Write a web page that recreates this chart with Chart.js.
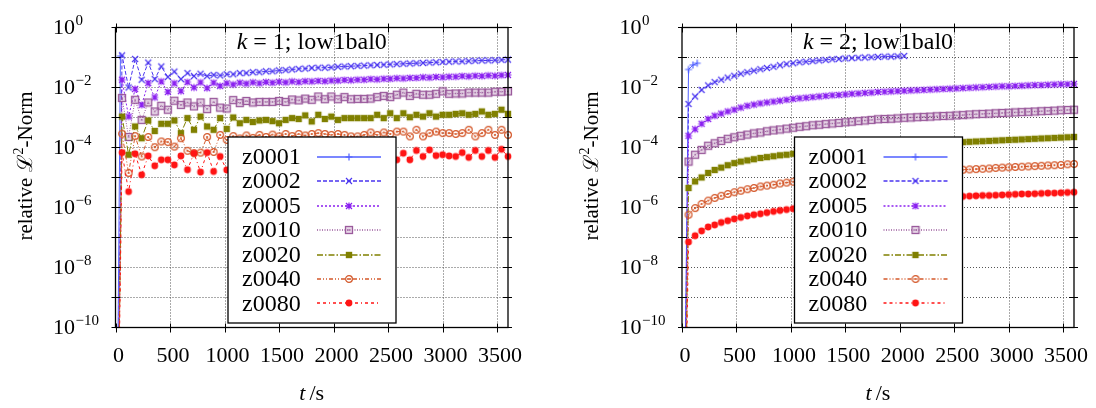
<!DOCTYPE html>
<html>
<head>
<meta charset="utf-8">
<script src="https://cdn.jsdelivr.net/npm/chart.js@4.4.1/dist/chart.umd.min.js"></script>
<style>
  html, body { margin: 0; padding: 0; background: #fff; }
  #wrap { display: flex; width: 1096px; height: 408px; }
  canvas { display: block; }
</style>
</head>
<body>
<div id="wrap">
  <canvas id="k1" width="548" height="408"></canvas>
  <canvas id="k2" width="548" height="408"></canvas>
</div>
<script>
// Output times in seconds (one sample per minute)
const times = [0,60,120,180,240,300,360,420,480,540,600,660,720,780,840,900,960,1020,1080,1140,1200,
  1260,1320,1380,1440,1500,1560,1620,1680,1740,1800,1860,1920,1980,2040,2100,2160,2220,2280,2340,2400,
  2460,2520,2580,2640,2700,2760,2820,2880,2940,3000,3060,3120,3180,3240,3300,3360,3420,3480,3540,3600];

// log10 of the relative L2 norm; the start value -20 stands for an (almost) zero initial error
// ---- k = 1 ----
const k1_z0001_t = [0, 45];
const k1_z0001 = [-20, -0.95];
const k1_z0002 = [-20, -0.93, -2.0, -1.05, -1.74, -1.17, -1.72, -1.30, -1.65, -1.47, -1.72,
  -1.52, -1.62, -1.54, -1.62, -1.58, -1.6, -1.56, -1.56, -1.52, -1.52,
  -1.49, -1.49, -1.46, -1.46, -1.43, -1.42, -1.40, -1.38, -1.37, -1.35,
  -1.34, -1.34, -1.33, -1.31, -1.30, -1.29, -1.28, -1.27, -1.26, -1.25,
  -1.24, -1.23, -1.22, -1.21, -1.20, -1.19, -1.18, -1.17, -1.16, -1.15,
  -1.14, -1.13, -1.13, -1.12, -1.11, -1.10, -1.10, -1.09, -1.08, -1.07];
const k1_z0005 = [-20, -1.74, -2.97, -2.05, -2.58, -1.85, -2.33, -1.80, -2.15, -1.86, -2.12,
  -1.82, -2.0, -1.83, -2.02, -1.84, -1.95, -1.86, -1.9, -1.84, -1.87,
  -1.83, -1.86, -1.82, -1.84, -1.81, -1.83, -1.80, -1.82, -1.79, -1.80,
  -1.78, -1.79, -1.77, -1.77, -1.75, -1.76, -1.74, -1.74, -1.72, -1.73,
  -1.71, -1.71, -1.69, -1.70, -1.68, -1.68, -1.66, -1.67, -1.65, -1.66,
  -1.64, -1.64, -1.62, -1.63, -1.61, -1.62, -1.60, -1.61, -1.59, -1.58];
const k1_z0010 = [-20, -2.35, -3.65, -2.41, -3.08, -2.5, -2.8, -2.61, -2.74, -2.44, -2.58,
  -2.5, -2.63, -2.5, -2.72, -2.48, -2.67, -2.7, -2.42, -2.52, -2.45,
  -2.5, -2.48, -2.48, -2.48, -2.45, -2.48, -2.4, -2.43, -2.37, -2.41,
  -2.30, -2.39, -2.30, -2.39, -2.32, -2.39, -2.38, -2.38, -2.37, -2.32,
  -2.28, -2.32, -2.24, -2.17, -2.28, -2.21, -2.24, -2.24, -2.21, -2.13,
  -2.21, -2.2, -2.2, -2.17, -2.17, -2.17, -2.17, -2.14, -2.14, -2.13];
const k1_z0020 = [-20, -2.97, -4.24, -3.3, -3.69, -3.1, -3.45, -3.21, -3.21, -3.1, -3.52,
  -3.02, -3.41, -2.97, -3.3, -3.41, -3.02, -3.38, -3.0, -3.19, -3.08,
  -3.15, -3.1, -3.08, -3.12, -3.19, -3.08, -3.02, -3.05, -2.93, -3.13,
  -2.91, -3.05, -2.97, -3.08, -3.02, -3.02, -3.02, -3.02, -3.02, -2.91,
  -3.02, -2.86, -3.02, -2.86, -2.99, -2.91, -2.97, -2.86, -2.97, -2.91,
  -2.91, -2.88, -2.86, -2.91, -2.88, -2.80, -2.91, -2.88, -2.74, -2.88];
const k1_z0040 = [-20, -3.54, -4.85, -3.62, -4.3, -3.65, -3.99, -3.8, -3.82, -3.97, -3.69,
  -4.11, -4.19, -4.17, -3.65, -4.15, -3.58, -3.75, -3.62, -3.7, -3.6,
  -3.68, -3.58, -3.65, -3.57, -3.63, -3.55, -3.62, -3.55, -3.6, -3.55,
  -3.52, -3.55, -3.58, -3.55, -3.58, -3.63, -3.63, -3.58, -3.5, -3.58,
  -3.5, -3.55, -3.47, -3.47, -3.63, -3.41, -3.63, -3.52, -3.47, -3.52,
  -3.52, -3.55, -3.52, -3.41, -3.63, -3.52, -3.41, -3.58, -3.41, -3.58];
const k1_z0080 = [-20, -4.17, -5.47, -4.21, -4.91, -4.28, -4.61, -4.41, -4.41, -4.58, -4.28,
  -4.74, -4.19, -4.82, -4.17, -4.8, -4.3, -4.75, -4.3, -4.55, -4.3,
  -4.5, -4.3, -4.45, -4.3, -4.42, -4.28, -4.4, -4.28, -4.4, -4.27,
  -4.38, -4.25, -4.35, -4.25, -4.35, -4.22, -4.35, -4.22, -4.32, -4.22,
  -4.3, -4.2, -4.41, -4.19, -4.41, -4.1, -4.3, -4.08, -4.27, -4.24,
  -4.28, -4.3, -4.17, -4.33, -4.1, -4.3, -4.1, -4.33, -4.06, -4.3];

// ---- k = 2 ----
const k2_z0001_t = [0, 60, 100, 140];
const k2_z0001 = [-20, -1.4, -1.25, -1.19];
const k2_z0002 = [-20, -2.55, -2.3, -2.08, -1.93, -1.82, -1.74, -1.67, -1.61, -1.54, -1.49,
  -1.44, -1.39, -1.35, -1.31, -1.26, -1.22, -1.19, -1.16, -1.14, -1.12,
  -1.10, -1.08, -1.06, -1.05, -1.03, -1.02, -1.01, -1.0, -0.99, -0.98,
  -0.97, -0.97, -0.96, -0.95];
const k2_z0005 = [-20, -3.61, -3.39, -3.21, -3.05, -2.94, -2.87, -2.8, -2.74, -2.67, -2.61,
  -2.57, -2.53, -2.5, -2.47, -2.44, -2.41, -2.38, -2.36, -2.34, -2.32,
  -2.3, -2.28, -2.26, -2.25, -2.23, -2.21, -2.2, -2.18, -2.17, -2.15,
  -2.14, -2.13, -2.12, -2.11, -2.1, -2.09, -2.08, -2.07, -2.06, -2.05,
  -2.04, -2.03, -2.02, -2.01, -2.0, -1.99, -1.98, -1.97, -1.96, -1.96,
  -1.95, -1.94, -1.93, -1.92, -1.92, -1.91, -1.9, -1.89, -1.89, -1.88];
const k2_z0010 = [-20, -4.47, -4.24, -4.08, -3.94, -3.86, -3.78, -3.71, -3.66, -3.61, -3.57,
  -3.53, -3.5, -3.46, -3.43, -3.4, -3.37, -3.34, -3.31, -3.29, -3.26,
  -3.24, -3.22, -3.2, -3.18, -3.16, -3.14, -3.12, -3.1, -3.08, -3.06,
  -3.05, -3.04, -3.03, -3.01, -3.0, -2.99, -2.98, -2.97, -2.96, -2.95,
  -2.94, -2.93, -2.92, -2.9, -2.89, -2.88, -2.87, -2.86, -2.85, -2.84,
  -2.83, -2.82, -2.81, -2.8, -2.79, -2.78, -2.77, -2.76, -2.75, -2.74];
const k2_z0020 = [-20, -5.35, -5.13, -5.0, -4.85, -4.75, -4.67, -4.59, -4.52, -4.47, -4.43,
  -4.39, -4.35, -4.32, -4.29, -4.26, -4.24, -4.21, -4.19, -4.17, -4.15,
  -4.13, -4.11, -4.09, -4.07, -4.05, -4.04, -4.02, -4.0, -3.99, -3.97,
  -3.96, -3.94, -3.93, -3.92, -3.9, -3.89, -3.88, -3.87, -3.86, -3.85,
  -3.84, -3.83, -3.82, -3.81, -3.8, -3.79, -3.78, -3.77, -3.76, -3.75,
  -3.74, -3.73, -3.72, -3.71, -3.7, -3.69, -3.68, -3.67, -3.66, -3.65];
const k2_z0040 = [-20, -6.24, -6.02, -5.88, -5.77, -5.68, -5.61, -5.55, -5.49, -5.44, -5.39,
  -5.35, -5.3, -5.27, -5.24, -5.2, -5.17, -5.14, -5.12, -5.09, -5.07,
  -5.05, -5.03, -5.01, -4.99, -4.97, -4.95, -4.93, -4.92, -4.9, -4.89,
  -4.87, -4.86, -4.84, -4.83, -4.82, -4.81, -4.8, -4.79, -4.78, -4.77,
  -4.76, -4.75, -4.74, -4.73, -4.72, -4.71, -4.7, -4.68, -4.67, -4.66,
  -4.65, -4.64, -4.63, -4.62, -4.61, -4.6, -4.59, -4.58, -4.56, -4.55];
const k2_z0080 = [-20, -7.15, -6.94, -6.78, -6.65, -6.58, -6.5, -6.44, -6.38, -6.33, -6.28,
  -6.24, -6.21, -6.17, -6.13, -6.1, -6.07, -6.04, -6.01, -5.98, -5.96,
  -5.94, -5.92, -5.9, -5.88, -5.86, -5.84, -5.82, -5.81, -5.79, -5.78,
  -5.76, -5.75, -5.74, -5.72, -5.71, -5.7, -5.69, -5.68, -5.67, -5.66,
  -5.65, -5.64, -5.63, -5.62, -5.61, -5.6, -5.6, -5.59, -5.58, -5.57,
  -5.56, -5.55, -5.55, -5.54, -5.53, -5.52, -5.52, -5.51, -5.5, -5.49];

// Axis ticks
const xTicks = [0, 500, 1000, 1500, 2000, 2500, 3000, 3500];
const yDecades = [0, -1, -2, -3, -4, -5, -6, -7, -8, -9, -10];
const yLabelDecades = [0, -2, -4, -6, -8, -10];

// Series appearance
const seriesNames = ['z0001', 'z0002', 'z0005', 'z0010', 'z0020', 'z0040', 'z0080'];
const seriesColors = ['#4f5fff', '#4a35f0', '#8a1ff0', '#9a5a9c', '#808000', '#d4582a', '#ff1414'];
const seriesDash = [[], [4, 2], [2, 2], [1, 1.5], [6, 2, 1.5, 2], [4, 2, 1, 2, 1, 2], [3, 3, 3, 3, 1, 3]];
const seriesMarks = ['plus', 'cross', 'star', 'box', 'fbox', 'ocirc', 'fcirc'];

const SERIF = '"Liberation Serif", "DejaVu Serif", serif';

function makeMarker(kind, color) {
  const c = document.createElement('canvas');
  c.width = 10; c.height = 10;
  const g = c.getContext('2d');
  const m = 5;
  g.strokeStyle = color; g.fillStyle = color; g.lineWidth = 1.2;
  g.beginPath();
  if (kind === 'plus' || kind === 'star') {
    g.moveTo(1.5, m); g.lineTo(8.5, m); g.moveTo(m, 1.5); g.lineTo(m, 8.5);
  }
  if (kind === 'cross' || kind === 'star') {
    g.moveTo(2, 2); g.lineTo(8, 8); g.moveTo(8, 2); g.lineTo(2, 8);
  }
  if (kind === 'plus' || kind === 'cross' || kind === 'star') g.stroke();
  if (kind === 'box') {
    g.globalAlpha = 0.25; g.fillRect(1.5, 1.5, 7, 7);
    g.globalAlpha = 1; g.lineWidth = 1.3; g.strokeRect(1.5, 1.5, 7, 7);
    g.fillRect(4.3, 4.3, 1.4, 1.4);
  }
  if (kind === 'fbox') g.fillRect(1.8, 1.8, 6.4, 6.4);
  if (kind === 'ocirc') {
    g.lineWidth = 1.2; g.arc(m, m, 3.4, 0, Math.PI * 2); g.stroke();
    g.beginPath(); g.arc(m, m, 1.1, 0, Math.PI * 2); g.fill();
  }
  if (kind === 'fcirc') { g.arc(m, m, 3.4, 0, Math.PI * 2); g.fill(); }
  return c;
}
const markerImages = seriesMarks.map((k, i) => makeMarker(k, seriesColors[i]));

function buildData(ts, logs) {
  return ts.map((t, i) => ({ x: t, y: Math.pow(10, logs[i]) }));
}

function drawPow10(ctx, x, y, exp) {
  ctx.font = '22px ' + SERIF;
  ctx.textAlign = 'left';
  ctx.textBaseline = 'middle';
  ctx.fillText('10', x, y + 1);
  const w = ctx.measureText('10').width;
  ctx.font = '15px ' + SERIF;
  ctx.fillText(exp === 0 ? '0' : '\u2212' + (-exp), x + w + 0.5, y - 6);
}

const gnuFrame = {
  id: 'gnuFrame',
  beforeDatasetsDraw(chart) {
    const { ctx, chartArea: a, scales: { x, y } } = chart;
    ctx.save();
    ctx.strokeStyle = '#555';
    ctx.lineWidth = 1;
    ctx.setLineDash([1, 2]);
    ctx.beginPath();
    xTicks.forEach(t => {
      if (t <= 0) return;
      const px = Math.round(x.getPixelForValue(t)) + 0.5;
      ctx.moveTo(px, a.top); ctx.lineTo(px, a.bottom);
    });
    yDecades.forEach(d => {
      if (d === 0 || d === -10) return;
      const py = Math.round(y.getPixelForValue(Math.pow(10, d)) - 0.5) + 0.5;
      ctx.moveTo(a.left, py); ctx.lineTo(a.right, py);
    });
    ctx.stroke();
    ctx.restore();
  },
  afterDraw(chart, args, opts) {
    const { ctx, chartArea: a, scales: { x, y } } = chart;
    ctx.save();
    ctx.fillStyle = '#000';
    ctx.strokeStyle = '#000';
    ctx.setLineDash([]);

    // border
    ctx.lineWidth = 1.3;
    ctx.strokeRect(a.left, a.top, a.right - a.left, a.bottom - a.top);

    // tick marks on all four sides
    ctx.lineWidth = 1;
    ctx.beginPath();
    xTicks.forEach(t => {
      const px = Math.round(x.getPixelForValue(t)) + 0.5;
      ctx.moveTo(px, a.bottom - 4); ctx.lineTo(px, a.bottom + 5);
      ctx.moveTo(px, a.top - 4); ctx.lineTo(px, a.top + 5);
    });
    yDecades.forEach(d => {
      const py = Math.round(y.getPixelForValue(Math.pow(10, d)) - 0.5) + 0.5;
      ctx.moveTo(a.left - 4, py); ctx.lineTo(a.left + 5, py);
      ctx.moveTo(a.right - 5, py); ctx.lineTo(a.right + 4, py);
    });
    ctx.stroke();

    // x tick labels
    ctx.font = '22px ' + SERIF;
    ctx.textAlign = 'center';
    ctx.textBaseline = 'middle';
    xTicks.forEach(t => ctx.fillText(String(t), x.getPixelForValue(t) + 3, a.bottom + 29));

    // y tick labels
    yLabelDecades.forEach(d => drawPow10(ctx, a.left - 62.5, y.getPixelForValue(Math.pow(10, d)), d));

    // x axis title: t / s
    const cx = (a.left + a.right) / 2;
    ctx.textBaseline = 'alphabetic';
    ctx.textAlign = 'left';
    ctx.font = 'italic 22px ' + SERIF;
    const wt = ctx.measureText('t').width;
    ctx.font = '22px ' + SERIF;
    const ws = ctx.measureText('/s').width;
    const gap = 4;
    let sx = cx - (wt + gap + ws) / 2;
    ctx.font = 'italic 22px ' + SERIF;
    ctx.fillText('t', sx, 400);
    ctx.font = '22px ' + SERIF;
    ctx.fillText('/s', sx + wt + gap, 400);

    // y axis title: relative L^2-Norm (rotated)
    ctx.save();
    ctx.translate(a.left - 89.5, 166);
    ctx.rotate(-Math.PI / 2);
    ctx.font = '21px ' + SERIF;
    const p1 = 'relative \u2112', p3 = '-Norm';
    const w1 = ctx.measureText(p1).width, w3 = ctx.measureText(p3).width;
    ctx.font = '14px ' + SERIF;
    const w2 = ctx.measureText('2').width;
    let tx = -(w1 + w2 + w3) / 2;
    ctx.textBaseline = 'middle';
    ctx.font = '21px ' + SERIF;
    ctx.fillText(p1, tx, 0);
    ctx.font = '14px ' + SERIF;
    ctx.fillText('2', tx + w1, -7);
    ctx.font = '21px ' + SERIF;
    ctx.fillText(p3, tx + w1 + w2, 0);
    ctx.restore();

    // panel title: k = n; low1bal0
    ctx.textBaseline = 'alphabetic';
    ctx.font = 'italic 24px ' + SERIF;
    const wk = ctx.measureText('k').width;
    ctx.font = '24px ' + SERIF;
    const rest = ' = ' + opts.k + '; low1bal0';
    const wr = ctx.measureText(rest).width;
    let kx = cx - (wk + wr) / 2;
    ctx.font = 'italic 24px ' + SERIF;
    ctx.fillText('k', kx, 49);
    ctx.font = '24px ' + SERIF;
    ctx.fillText(rest, kx + wk, 49);

    // key box
    const bx = a.left + 112.5, by = 137, bw = 168, bh = 186;
    ctx.fillStyle = '#fff';
    ctx.fillRect(bx, by, bw, bh);
    ctx.strokeStyle = '#000';
    ctx.lineWidth = 1.3;
    ctx.strokeRect(bx, by, bw, bh);
    chart.data.datasets.forEach((ds, i) => {
      const ry = 156.7 + i * 24.45;
      ctx.fillStyle = '#000';
      ctx.font = '24px ' + SERIF;
      ctx.textAlign = 'left';
      ctx.textBaseline = 'middle';
      ctx.fillText(ds.label, bx + 14, ry + 1);
      ctx.save();
      ctx.strokeStyle = ds.borderColor;
      ctx.lineWidth = 1.3;
      ctx.setLineDash(ds.borderDash);
      ctx.beginPath();
      ctx.moveTo(bx + 89, Math.round(ry));
      ctx.lineTo(bx + 153, Math.round(ry));
      ctx.stroke();
      ctx.restore();
      ctx.drawImage(ds.pointStyle, bx + 121 - 5, Math.round(ry) - 5);
    });
    ctx.restore();
  }
};

function makeChart(id, k, sets, leftW, rightPad) {
  const datasets = sets.map((s, i) => ({
    label: seriesNames[i],
    data: buildData(s[0], s[1]),
    borderColor: seriesColors[i],
    backgroundColor: seriesColors[i],
    borderWidth: 1,
    borderDash: seriesDash[i],
    pointStyle: markerImages[i],
    pointRadius: 4,
    pointHoverRadius: 4,
    fill: false,
    tension: 0,
    order: sets.length - i,
    clip: { left: 0, top: 6, right: 6, bottom: 0 }
  }));
  return new Chart(document.getElementById(id), {
    type: 'line',
    data: { datasets },
    options: {
      responsive: false,
      animation: false,
      devicePixelRatio: 1,
      layout: { padding: { top: 27.5, right: rightPad, left: 0, bottom: 0 } },
      plugins: { legend: { display: false }, tooltip: { enabled: false }, gnuFrame: { k } },
      scales: {
        x: {
          type: 'linear', min: 0, max: 3600,
          ticks: { display: false }, grid: { display: false }, border: { display: false },
          afterFit(s) { s.height = 80.5; }
        },
        y: {
          type: 'logarithmic', min: 1e-10, max: 1,
          ticks: { display: false }, grid: { display: false }, border: { display: false },
          afterFit(s) { s.width = leftW; }
        }
      }
    },
    plugins: [gnuFrame]
  });
}

makeChart('k1', '1', [
  [k1_z0001_t, k1_z0001], [times, k1_z0002], [times, k1_z0005], [times, k1_z0010],
  [times, k1_z0020], [times, k1_z0040], [times, k1_z0080]
], 115.5, 40);

makeChart('k2', '2', [
  [k2_z0001_t, k2_z0001], [times.slice(0, k2_z0002.length), k2_z0002], [times, k2_z0005], [times, k2_z0010],
  [times, k2_z0020], [times, k2_z0040], [times, k2_z0080]
], 134, 22);
</script>
</body>
</html>
